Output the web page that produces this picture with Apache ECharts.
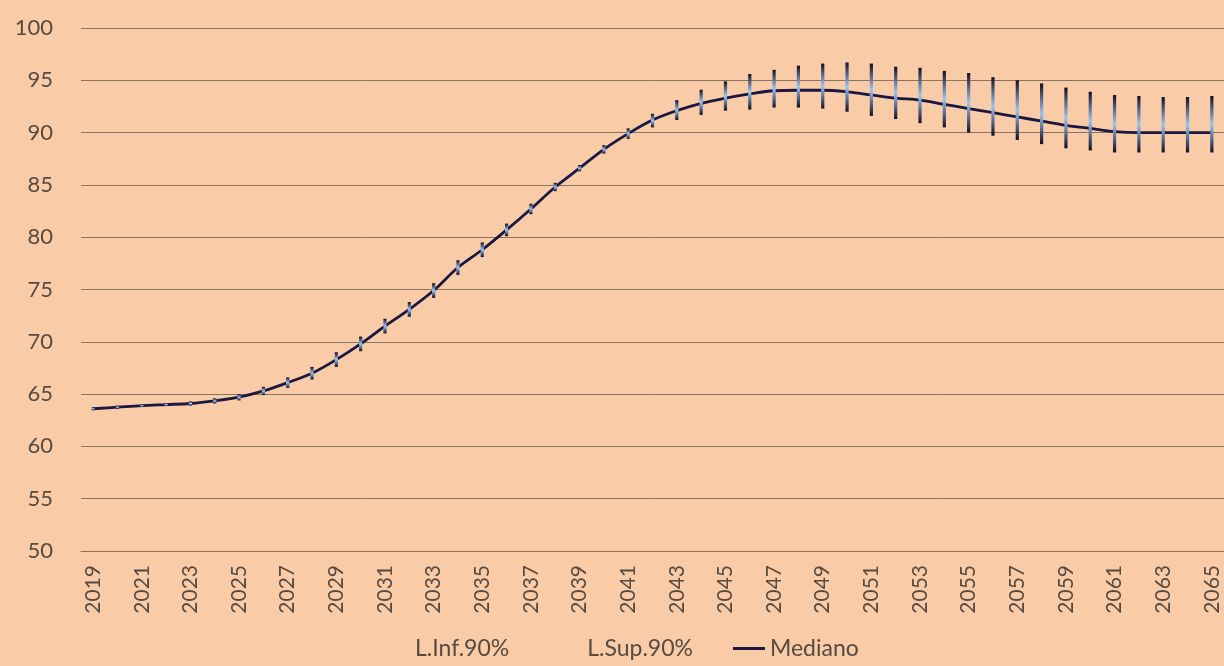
<!DOCTYPE html>
<html>
<head>
<meta charset="utf-8">
<script src="https://cdn.jsdelivr.net/npm/echarts@6/dist/echarts.min.js"></script>
<style>
html,body{margin:0;padding:0;background:#F9CBA7;}
#c{width:1224px;height:666px;}
</style>
</head>
<body>
<div id="c"></div>
<script>
const years = [];
for (let y = 2019; y <= 2065; y++) years.push(String(y));

const mediano = [63.6,63.75,63.9,64.0,64.1,64.35,64.7,65.3,66.1,67.0,
  68.3,69.8,71.5,73.1,74.9,77.1,78.8,80.7,82.7,84.8,
  86.6,88.4,89.9,91.2,92.1,92.8,93.3,93.7,94.0,94.05,
  94.05,93.9,93.6,93.3,93.1,92.7,92.3,91.9,91.5,91.1,
  90.7,90.4,90.1,90.0,90.0,90.0,90.0];

const limInf = [63.6,63.7,63.8,63.85,63.9,64.1,64.4,64.9,65.6,66.4,
  67.6,69.1,70.8,72.4,74.2,76.4,78.1,80.1,82.2,84.4,
  86.3,88.0,89.4,90.5,91.2,91.7,92.1,92.2,92.4,92.4,
  92.3,92.0,91.6,91.3,90.9,90.5,90.0,89.7,89.3,88.9,
  88.5,88.3,88.1,88.1,88.1,88.1,88.1];

const limSup = [63.6,63.8,64.0,64.15,64.3,64.6,65.0,65.7,66.6,67.6,
  69.0,70.5,72.2,73.8,75.6,77.8,79.5,81.3,83.2,85.2,
  86.9,88.8,90.4,91.8,93.1,94.1,94.9,95.6,96.0,96.4,
  96.6,96.7,96.6,96.3,96.2,95.9,95.7,95.3,95.0,94.7,
  94.3,93.9,93.6,93.5,93.4,93.4,93.5];

const yTicks = {min: 50, max: 100, step: 5};

const textColor = '#574a40';
const gridColor = '#867563';
const font = 'Lato, "Open Sans", sans-serif';

const chart = echarts.init(document.getElementById('c'));
const rangeData = years.map((y, i) => [i, limInf[i], limSup[i]]);

chart.setOption({
  backgroundColor: '#F9CBA7',
  animation: false,
  grid: {left: 81, top: 28, bottom: 115, width: 1147, containLabel: false},
  legend: {
    left: 372, bottom: 1,
    itemWidth: 32, itemHeight: 14, itemGap: 40,
    textStyle: {color: textColor, fontSize: 23, fontFamily: font},
    data: [
      {name: 'L.Inf.90%'},
      {name: 'L.Sup.90%'},
      {name: 'Mediano', icon: 'path://M0,0 L32,0 L32,3 L0,3 Z', itemStyle: {color: '#1a1840'}}
    ]
  },
  xAxis: {
    type: 'category',
    data: years,
    boundaryGap: true,
    axisLine: {show: true, lineStyle: {color: gridColor, width: 1}},
    axisTick: {show: false},
    axisLabel: {interval: 1, rotate: 90, margin: 14, color: textColor, fontSize: 21, fontFamily: font},
    splitLine: {show: false}
  },
  yAxis: {
    type: 'value',
    min: yTicks.min, max: yTicks.max, interval: yTicks.step,
    axisLine: {show: false},
    axisTick: {show: false},
    axisLabel: {margin: 28, color: textColor, fontSize: 22, fontFamily: font},
    splitLine: {show: true, lineStyle: {color: gridColor, width: 1}}
  },
  series: [
    {
      name: 'L.Inf.90%', type: 'line', data: limInf, symbol: 'none', silent: true,
      lineStyle: {opacity: 0}, itemStyle: {opacity: 0}
    },
    {
      name: 'L.Sup.90%', type: 'line', data: limSup, symbol: 'none', silent: true,
      lineStyle: {opacity: 0}, itemStyle: {opacity: 0}
    },
    {
      name: 'Mediano', type: 'line', data: mediano, symbol: 'none', smooth: 0.35,
      z: 3,
      lineStyle: {color: '#1a1840', width: 2.8},
      itemStyle: {color: '#1a1840'}
    },
    {
      name: 'rango', type: 'custom', data: rangeData, z: 4, silent: true,
      encode: {x: 0, y: [1, 2]},
      renderItem: function (params, api) {
        const i = api.value(0);
        const lo = api.coord([i, api.value(1)]);
        const hi = api.coord([i, api.value(2)]);
        const h = Math.max(lo[1] - hi[1], 3);
        return {
          type: 'rect',
          shape: {x: lo[0] - 1.6, y: (lo[1] + hi[1]) / 2 - h / 2, width: 3.2, height: h},
          style: {
            fill: new echarts.graphic.LinearGradient(0, 0, 0, 1, [
              {offset: 0, color: '#120d24'},
              {offset: 0.5, color: '#9cc6f2'},
              {offset: 1, color: '#120d24'}
            ])
          }
        };
      }
    }
  ]
});
</script>
</body>
</html>
